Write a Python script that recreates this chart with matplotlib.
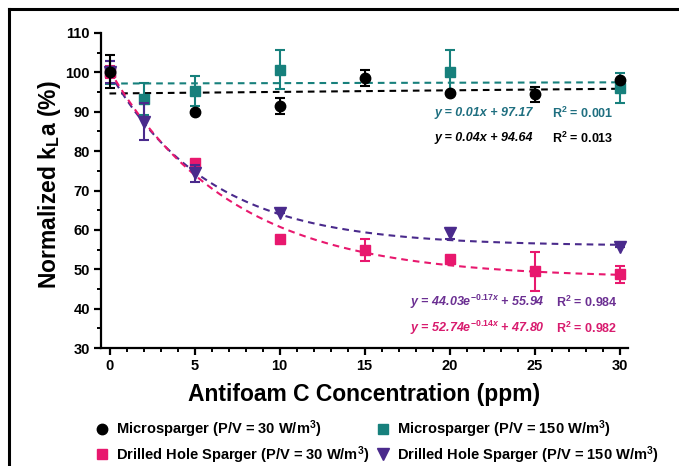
import numpy as np
import matplotlib
matplotlib.use("Agg")
import matplotlib.pyplot as plt
from matplotlib.lines import Line2D

plt.rcParams['font.family'] = ['Liberation Sans', 'DejaVu Sans']
plt.rcParams['font.weight'] = 'bold'
plt.rcParams['mathtext.fontset'] = 'custom'
plt.rcParams['mathtext.rm'] = 'Liberation Sans:bold'
plt.rcParams['mathtext.it'] = 'Liberation Sans:italic:bold'
plt.rcParams['mathtext.bf'] = 'Liberation Sans:bold'

# ---- data ----
x_micro30 = [0, 5, 10, 15, 20, 25, 30]
y_micro30 = [100.2, 90.0, 91.5, 98.6, 94.7, 94.5, 98.1]
e_micro30 = [4.2, 0.0, 2.0, 2.0, 0.0, 1.9, 0.0]

x_micro150 = [0, 2, 5, 10, 20, 30]
y_micro150 = [100.0, 93.2, 95.3, 100.7, 100.2, 96.0]
e_micro150 = [3.0, 4.1, 3.9, 5.0, 5.5, 3.8]

x_dh30 = [0, 5, 10, 15, 20, 25, 30]
y_dh30 = [100.0, 76.9, 57.8, 55.0, 52.5, 49.5, 48.7]
e_dh30 = [1.5, 0.0, 0.0, 2.8, 0.0, 5.0, 2.1]

x_dh150 = [0, 2, 5, 10, 20, 30]
y_dh150 = [100.0, 87.5, 74.4, 64.2, 59.1, 55.7]
e_dh150 = [2.8, 4.8, 2.2, 0.0, 1.5, 0.0]

# fit coefficients shown in the chart
lin_micro150 = [0.01, 97.17]
lin_micro30 = [0.04, 94.64]
exp_dh150 = [44.03, 0.17, 55.94]
exp_dh30 = [52.74, 0.14, 47.80]

legend_labels = [
    r'Microsparger (P/V = 30 W/m$^{3}$)',
    r'Microsparger (P/V = 150 W/m$^{3}$)',
    r'Drilled Hole Sparger (P/V = 30 W/m$^{3}$)',
    r'Drilled Hole Sparger (P/V = 150 W/m$^{3}$)',
]

c_black = '#000000'
c_teal = '#17807c'
c_pink = '#e8186e'
c_purple = '#4a2a8c'

W, H = 679, 466
fig = plt.figure(figsize=(6.79, 4.66), dpi=100)
ax = fig.add_axes([101/W, 1-348/H, (628-101)/W, (348-33)/H])

xf = np.linspace(0, 30, 200)
dash = (0, (3.2, 2.4))
ax.plot(xf, lin_micro150[0]*xf + lin_micro150[1], ls=dash, color=c_teal, lw=1.5, zorder=2)
ax.plot(xf, lin_micro30[0]*xf + lin_micro30[1], ls=dash, color=c_black, lw=1.5, zorder=2)
ax.plot(xf, exp_dh150[0]*np.exp(-exp_dh150[1]*xf) + exp_dh150[2], ls=dash, color=c_purple, lw=1.5, zorder=2)
ax.plot(xf, exp_dh30[0]*np.exp(-exp_dh30[1]*xf) + exp_dh30[2], ls=dash, color=c_pink, lw=1.5, zorder=2)

kw = dict(ls='none', capsize=3.8, elinewidth=1.5, capthick=1.5)
ax.errorbar(x_micro150, y_micro150, yerr=e_micro150, marker='s', ms=7.5, color=c_teal, zorder=3, **kw)
ax.errorbar(x_dh30, y_dh30, yerr=e_dh30, marker='s', ms=7.5, color=c_pink, zorder=4, **kw)
ax.errorbar(x_dh150, y_dh150, yerr=e_dh150, marker='v', ms=8, color=c_purple, zorder=5, **kw)
ax.errorbar(x_micro30, y_micro30, yerr=e_micro30, marker='o', ms=7.5, color=c_black, zorder=6, **kw)

ax.set_xlim(-0.5, 30.5)
ax.set_ylim(30, 110)
ax.set_xticks([0, 5, 10, 15, 20, 25, 30])
ax.set_xticks(np.arange(0, 31, 1), minor=True)
ax.set_yticks(np.arange(30, 111, 10))
ax.set_yticks(np.arange(35, 110, 10), minor=True)
for s in ['top', 'right']:
    ax.spines[s].set_visible(False)
for s in ['left', 'bottom']:
    ax.spines[s].set_linewidth(1.6)
ax.tick_params(which='major', length=5, width=1.6, labelsize=10.5, pad=3)
ax.tick_params(which='minor', length=3, width=1.4)
for lab in ax.get_xticklabels() + ax.get_yticklabels():
    lab.set_fontweight('bold')

ax.set_xlabel('Antifoam C Concentration (ppm)', fontsize=16.5, fontweight='bold')
ax.set_ylabel(r'Normalized k$_{\mathrm{L}}$a (%)', fontsize=16.5, fontweight='bold')
ax.xaxis.set_label_coords(0.5, (348-383)/315)
ax.yaxis.set_label_coords((63-101)/527, (348-185)/315)

# equations
def eq(xp, yp, s, col, italic=True):
    fig.text(xp/W, 1-yp/H, s, color=col, fontsize=9, fontweight='bold',
             style='italic' if italic else 'normal', ha='left', va='center')

eq(435, 113, 'y = 0.01x + 97.17', '#1f6f80')
eq(552, 113, r'R$^{2}$ = 0.001', '#1f6f80', False)
eq(435, 138, 'y = 0.04x + 94.64', c_black)
eq(552, 138, r'R$^{2}$ = 0.013', c_black, False)
eq(410, 302, r'y = 44.03e$^{\mathit{-0.17x}}$ + 55.94', '#6b2f92')
eq(556, 302, r'R$^{2}$ = 0.984', '#6b2f92', False)
eq(410, 328, r'y = 52.74e$^{\mathit{-0.14x}}$ + 47.80', '#d81b6e')
eq(556, 328, r'R$^{2}$ = 0.982', '#d81b6e', False)

# legend (manual, 2 columns)
leg_items = [
    (101.5, 428.5, 434.3, 'o', 7.5, c_black, legend_labels[0]),
    (383, 428.5, 434.3, 's', 7.5, c_teal, legend_labels[1]),
    (101.5, 454, 459.5, 's', 7.5, c_pink, legend_labels[2]),
    (383, 454, 459.5, 'v', 8, c_purple, legend_labels[3]),
]
for mx, my, by, mk, ms, col, lab in leg_items:
    fig.add_artist(Line2D([mx/W], [1-my/H], transform=fig.transFigure, ls='none',
                          marker=mk, ms=ms, color=col))
    fig.text((mx+14)/W, 1-by/H, lab, fontsize=10.5, fontweight='bold',
             ha='left', va='baseline', color='black')

# outer frame lines (top and left)
fig.add_artist(Line2D([9/W, 1], [1-9/H, 1-9/H], transform=fig.transFigure, color='black', lw=2.2))
fig.add_artist(Line2D([9/W, 9/W], [0, 1-9/H], transform=fig.transFigure, color='black', lw=2.2))

fig.savefig('out.png', dpi=100)
